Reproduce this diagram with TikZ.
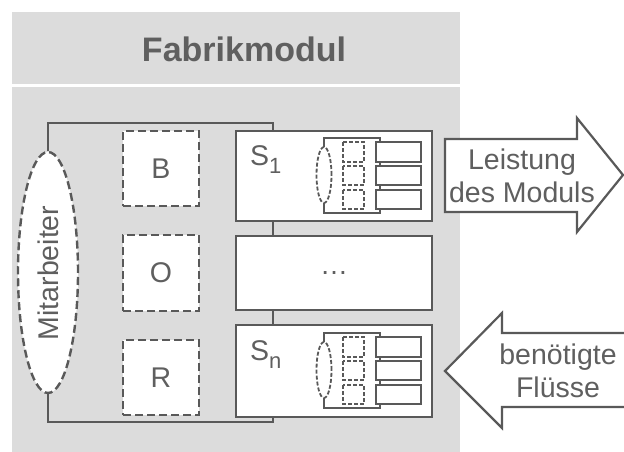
\documentclass[tikz,border=0pt]{standalone}
\usepackage{fontspec}
\setmainfont{Liberation Sans}
\usetikzlibrary{shapes.geometric}
\definecolor{linegray}{HTML}{595959}
\definecolor{panelgray}{HTML}{DCDCDC}
\definecolor{textgray}{HTML}{5F5F5F}
\tikzset{
  panel/.style={fill=panelgray, draw=none, inner sep=0pt},
  block/.style={draw=linegray, line width=2.4pt, fill=white, inner sep=0pt},
  dashblock/.style={draw=linegray, line width=2.4pt, fill=white, inner sep=0pt,
    dash pattern=on 8pt off 4pt},
  conn/.style={draw=linegray, line width=2.4pt},
  lbl/.style={text=textgray, font=\fontsize{28.5}{33}\selectfont, inner sep=0pt, align=center},
  smalldash/.style={draw=linegray, line width=1.8pt, dash pattern=on 4pt off 2pt, fill=white},
  smallbox/.style={draw=linegray, line width=2.2pt, fill=white},
  flow/.style={draw=linegray, line width=2.2pt, fill=white, line join=miter}
}
\newcommand{\subidx}[1]{\raisebox{-0.3em}{\fontsize{22}{22}\selectfont #1}}
\begin{document}
\begin{tikzpicture}[x=1pt, y=-1pt]
\useasboundingbox (0,0) rectangle (624,452);

% module header and body panels
\node[panel, minimum width=448pt, minimum height=72pt] (head) at (236,48) {};
\node[text=textgray, font=\bfseries\fontsize{34}{40}\selectfont, inner sep=0pt] (title) at (244,49) {Fabrikmodul};
\node[panel, minimum width=448pt, minimum height=365pt] (body) at (236,269.5) {};

% junction points of the employee link
\coordinate (jtop) at (273,123);
\coordinate (jbot) at (273,422);

% subsystem blocks
\node[block, minimum width=196pt, minimum height=90pt] (s1) at (334,176) {};
\node[block, minimum width=196pt, minimum height=74pt] (mid) at (334,273) {};
\node[block, minimum width=196pt, minimum height=92pt] (sn) at (334,371) {};

% employee ellipse
\node[dashblock, ellipse, minimum width=60pt, minimum height=241pt] (mit) at (48,272.5) {};
\node[lbl, rotate=90] (mittext) at (48,273) {Mitarbeiter};

% connectors
\draw[conn] (mit.north) |- (jtop) -- (jtop |- s1.north);
\draw[conn] (mit.south) |- (jbot) -- (jbot |- sn.south);
\draw[conn] (jtop |- s1.south) -- (jtop |- mid.north);
\draw[conn] (jtop |- mid.south) -- (jtop |- sn.north);

% dashed boxes B, O, R
\node[dashblock, minimum width=76pt, minimum height=75pt] (b) at (161,168.5) {};
\node[dashblock, minimum width=76pt, minimum height=76pt] (o) at (161,273) {};
\node[dashblock, minimum width=76pt, minimum height=75pt] (r) at (161,377.5) {};
\node[lbl] (btext) at (b) {B};
\node[lbl] (otext) at (o) {O};
\node[lbl] (rtext) at (r) {R};

% inner structure of the subsystem blocks
\foreach \s in {s1,sn}{
  \begin{scope}[shift={(\s.center)}]
    \draw[linegray, line width=2.2pt, fill=white] (-10,-38) rectangle (46,37);
    \draw[smalldash] (-10,-1) ellipse [x radius=7.5pt, y radius=28pt];
    \foreach \ya/\yb in {-34/-14, -10/9, 14/33}{
      \draw[smalldash] (9,\ya) rectangle (30,\yb);
      \draw[smallbox] (42,\ya) rectangle (87,\yb);
    }
  \end{scope}
}
\node[lbl, anchor=base west] (s1text) at ([shift={(-84,-11)}]s1.center) {S\subidx{1}};
\node[lbl, anchor=base west] (sntext) at ([shift={(-84,-11)}]sn.center) {S\subidx{n}};
\node[lbl] (dots) at (mid) {\fontsize{28}{28}\selectfont …};

% output and input flows
\coordinate (outtip) at (623,175);
\draw[flow] (445,139) -- (577,139) -- (577,118) -- (outtip) -- (577,232) -- (577,212) -- (445,212) -- cycle;
\node[lbl] (outtext) at (522,176) {Leistung\\des Moduls};
\coordinate (intip) at (445,371);
\draw[flow] (640,333) -- (502,333) -- (502,313) -- (intip) -- (502,428) -- (502,407) -- (640,407);
\node[lbl] (intext) at (558,371) {benötigte\\Flüsse};
\end{tikzpicture}
\end{document}
